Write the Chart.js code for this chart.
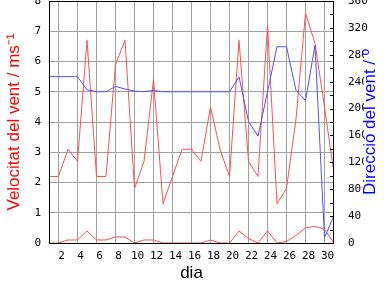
<!DOCTYPE html>
<html>
<head>
<meta charset="utf-8">
<script src="https://cdn.jsdelivr.net/npm/chart.js@4.4.0/dist/chart.umd.min.js"></script>
<style>
  body { margin: 0; background: #fff; }
</style>
</head>
<body>
<canvas id="vent" width="384" height="288"></canvas>
<script>
var dies = [1, 2, 3, 4, 5, 6, 7, 8, 9, 10, 11, 12, 13, 14, 15, 16,
  17, 18, 19, 20, 21, 22, 23, 24, 25, 26, 27, 28, 29, 30, 31];
// ratxa maxima (m/s)
var ratxa = [2.2, 2.2, 3.1, 2.7, 6.7, 2.2, 2.2, 5.9, 6.7, 1.8, 2.7, 5.4, 1.3, 2.2, 3.1, 3.1,
  2.7, 4.5, 3.1, 2.2, 6.7, 2.7, 2.2, 7.2, 1.3, 1.8, 4.1, 7.6, 6.6, 4.5, 2.3];
// velocitat mitjana (m/s)
var mitjana = [0, 0, 0.1, 0.1, 0.4, 0.1, 0.1, 0.2, 0.2, 0, 0.1, 0.1, 0, 0, 0, 0,
  0, 0.1, 0, 0, 0.4, 0.15, 0, 0.4, 0, 0.05, 0.25, 0.5, 0.55, 0.45, 0];
// direccio (graus)
var direccio = [247.5, 247.5, 247.5, 247.5, 228, 225, 225, 233, 229, 226, 225, 227, 225, 225, 225, 225,
  225, 225, 225, 225, 247, 181, 159, 225, 292, 292, 227, 212, 294, 8, 41];

var vermell = '#ff5050';
var blau = '#5050ff';
var graella = '#a0a0a0';
var fontTicks = { family: 'DejaVu Sans Mono', size: 11 };

var marc = {
  id: 'marc',
  afterDraw: function(chart) {
    var ctx = chart.ctx, a = chart.chartArea, y1 = chart.scales.y1;
    ctx.save();
    ctx.strokeStyle = '#000';
    ctx.lineWidth = 1;
    ctx.strokeRect(a.left + 0.5, a.top + 0.5, a.right - a.left - 1, a.bottom - a.top);
    // marques cap a dins a l'eix dret
    ctx.beginPath();
    for (var v = 20; v < 360; v += 20) {
      var py = Math.round(y1.getPixelForValue(v)) + 0.5;
      ctx.moveTo(a.right - 4, py);
      ctx.lineTo(a.right, py);
    }
    ctx.stroke();
    // titol eix dret, llegit de baix a dalt, amb fons blanc
    var txt = 'Direcció del vent / º';
    ctx.font = '17px "Liberation Sans"';
    var w = ctx.measureText(txt).width;
    var cy = (a.top + a.bottom) / 2;
    ctx.fillStyle = '#fff';
    ctx.fillRect(364, cy - w / 2, 14, w);
    ctx.translate(370, cy);
    ctx.rotate(-Math.PI / 2);
    ctx.fillStyle = '#0000ff';
    ctx.textAlign = 'center';
    ctx.textBaseline = 'middle';
    ctx.fillText(txt, 0, 0);
    ctx.restore();
  }
};

var ctx = document.getElementById('vent').getContext('2d');
var grafic = new Chart(ctx, {
  type: 'line',
  data: {
    labels: dies,
    datasets: [{
      data: direccio,
      yAxisID: 'y1',
      borderColor: blau,
      borderWidth: 1,
      pointRadius: 0,
      tension: 0
    }, {
      data: ratxa,
      yAxisID: 'y',
      borderColor: vermell,
      borderWidth: 1,
      pointRadius: 0,
      tension: 0
    }, {
      data: mitjana,
      yAxisID: 'y',
      borderColor: vermell,
      borderWidth: 1,
      pointRadius: 0,
      tension: 0
    }]
  },
  options: {
    responsive: false,
    animation: false,
    layout: { padding: { top: 1, left: 0, right: 0, bottom: 0 } },
    plugins: { legend: { display: false }, tooltip: { enabled: false } },
    scales: {
      x: {
        type: 'category',
        offset: false,
        grid: {
          drawTicks: false,
          color: function(c) {
            return (c.index + 1) % 2 === 0 ? graella : 'rgba(0,0,0,0)';
          }
        },
        border: { display: false },
        ticks: {
          autoSkip: false,
          maxRotation: 0,
          padding: 7,
          labelOffset: 3,
          color: '#000',
          font: fontTicks,
          callback: function(v, i) { return (i + 1) % 2 === 0 ? String(dies[i]) : ''; }
        },
        title: {
          display: true,
          text: 'dia',
          color: '#000',
          font: { family: 'Liberation Sans', size: 17 },
          padding: { top: 4, bottom: 4 }
        },
        afterFit: function(s) { s.height = 45; s.paddingLeft = 0; s.paddingRight = 0; }
      },
      y: {
        position: 'left',
        min: 0,
        max: 8,
        grid: { color: graella, drawTicks: false },
        border: { display: false },
        ticks: { stepSize: 1, padding: 8, color: '#000', font: fontTicks },
        title: {
          display: true,
          text: 'Velocitat del vent / ms⁻¹',
          color: '#ff0000',
          font: { family: 'Liberation Sans', size: 17 },
          padding: { top: 4, bottom: 4 }
        },
        afterFit: function(s) { s.width = 49; s.paddingTop = 0; s.paddingBottom = 0; }
      },
      y1: {
        position: 'right',
        min: 0,
        max: 360,
        grid: { display: false, drawTicks: false },
        border: { display: false },
        ticks: { stepSize: 20, padding: 14, color: '#000', font: fontTicks },
        afterFit: function(s) { s.width = 50; s.paddingTop = 0; s.paddingBottom = 0; }
      }
    }
  },
  plugins: [marc]
});
</script>
</body>
</html>
